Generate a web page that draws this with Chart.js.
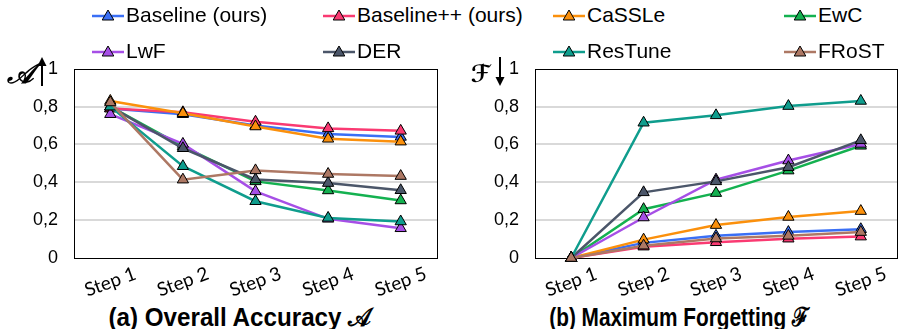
<!DOCTYPE html>
<html>
<head>
<meta charset="utf-8">
<script src="https://cdn.jsdelivr.net/npm/chart.js@4"></script>
<style>
  html, body { margin: 0; padding: 0; background: #fff; }
  #wrap { position: relative; width: 907px; height: 329px; overflow: hidden;
          font-family: 'Liberation Sans', Arial, sans-serif; color: #000; }
  canvas.cv { position: absolute; top: 42px; }
  .leg { position: absolute; height: 24px; display: flex; align-items: center;
         font-size: 21px; white-space: nowrap; }
  .leg svg { margin-right: 2px; }
  .sym { position: absolute; font-weight: bold; font-style: italic;
         font-family: 'DejaVu Serif', 'DejaVu Sans', serif; line-height: 1; }
  .title { position: absolute; top: 303px; font-weight: bold; font-size: 26px; line-height: 28px;
           font-family: 'Liberation Sans', Arial, sans-serif; white-space: nowrap; }
</style>
</head>
<body>
<div id="wrap">
  <canvas id="accChart" class="cv" width="450" height="260" style="left:0px"></canvas>
  <canvas id="fgtChart" class="cv" width="447" height="260" style="left:460px"></canvas>

  <span class="sym" style="left:7px; top:60px; font-size:28px;">𝒜</span>
  <svg style="position:absolute; left:36px; top:55px;" width="12" height="32">
    <line x1="6" y1="8" x2="6" y2="31" stroke="#000" stroke-width="2"/>
    <polygon points="6,2 1.5,11 10.5,11" fill="#000"/>
  </svg>
  <span class="sym" style="left:471px; top:62px; font-size:24px;">ℱ</span>
  <svg style="position:absolute; left:494px; top:55px;" width="12" height="33">
    <line x1="6" y1="2" x2="6" y2="24" stroke="#000" stroke-width="2"/>
    <polygon points="6,31 1.5,22 10.5,22" fill="#000"/>
  </svg>

  <div class="title" style="left:240px; transform: translateX(-50%) scaleX(0.93);">(a) Overall Accuracy 𝒜</div>
  <div class="title" style="left:679px; transform: translateX(-50%) scaleX(0.8);">(b) Maximum Forgetting ℱ</div>

  <div id="legend"></div>
</div>

<script>
// Training steps along the x axis
const steps = ['Step 1', 'Step 2', 'Step 3', 'Step 4', 'Step 5'];

// Method names and their colours
const methods = ['Baseline (ours)', 'Baseline++ (ours)', 'CaSSLe', 'EwC', 'LwF', 'DER', 'ResTune', 'FRoST'];
const colors  = ['#3a6ff5', '#fa3a72', '#fb900c', '#14b150', '#a64fe6', '#4b5669', '#0f9d8d', '#ad7864'];

// Overall accuracy per step
const accBaseline   = [0.79, 0.76, 0.70, 0.655, 0.64];
const accBaselinePP = [0.79, 0.77, 0.72, 0.685, 0.672];
const accCaSSLe     = [0.83, 0.765, 0.695, 0.63, 0.615];
const accEwC        = [0.80, 0.59, 0.405, 0.357, 0.304];
const accLwF        = [0.76, 0.603, 0.352, 0.207, 0.157];
const accDER        = [0.80, 0.58, 0.415, 0.396, 0.358];
const accResTune    = [0.80, 0.485, 0.30, 0.212, 0.193];
const accFRoST      = [0.822, 0.414, 0.463, 0.444, 0.433];

// Maximum forgetting per step
const fgtBaseline   = [0, 0.08, 0.117, 0.137, 0.152];
const fgtBaselinePP = [0, 0.06, 0.083, 0.102, 0.113];
const fgtCaSSLe     = [0, 0.097, 0.174, 0.217, 0.248];
const fgtEwC        = [0, 0.258, 0.343, 0.462, 0.593];
const fgtLwF        = [0, 0.214, 0.414, 0.515, 0.603];
const fgtDER        = [0, 0.347, 0.405, 0.48, 0.622];
const fgtResTune    = [0, 0.715, 0.754, 0.803, 0.83];
const fgtFRoST      = [0, 0.065, 0.103, 0.117, 0.137];

// Y axis ticks and their labels (decimal comma)
const yTicks      = [0, 0.2, 0.4, 0.6, 0.8, 1];
const yTickLabels = ['0', '0,2', '0,4', '0,6', '0,8', '1'];

const accSeries = [accBaseline, accBaselinePP, accCaSSLe, accEwC, accLwF, accDER, accResTune, accFRoST];
const fgtSeries = [fgtBaseline, fgtBaselinePP, fgtCaSSLe, fgtEwC, fgtLwF, fgtDER, fgtResTune, fgtFRoST];

// Legend: 4 columns x 2 rows
const legend = document.getElementById('legend');
const legCols = [92, 323, 553, 784];
const legRows = [15, 51];
methods.forEach((name, i) => {
  const el = document.createElement('div');
  el.className = 'leg';
  el.style.left = legCols[i % 4] + 'px';
  el.style.top = (legRows[Math.floor(i / 4)] - 12) + 'px';
  el.innerHTML =
    '<svg width="32" height="16" viewBox="0 0 32 16">' +
    '<line x1="0" y1="9" x2="32" y2="9" stroke="' + colors[i] + '" stroke-width="2.5"/>' +
    '<polygon points="16,3 21.8,13 10.2,13" fill="' + colors[i] + '" stroke="#000" stroke-width="1"/>' +
    '</svg><span>' + name + '</span>';
  legend.appendChild(el);
});

// Black frame around the plot area
const framePlugin = {
  id: 'frame',
  beforeDatasetsDraw(chart) {
    const { ctx, chartArea: a } = chart;
    ctx.save();
    ctx.strokeStyle = '#000';
    ctx.lineWidth = 1;
    ctx.strokeRect(Math.round(a.left) + 0.5, Math.round(a.top) + 0.5,
                   Math.round(a.right - a.left), Math.round(a.bottom - a.top));
    ctx.restore();
  }
};

// Slanted step labels centred under each category
const stepLabelPlugin = {
  id: 'stepLabels',
  afterDraw(chart) {
    const { ctx, chartArea } = chart;
    const x = chart.scales.x;
    ctx.save();
    ctx.font = '19px Lato, "Open Sans", sans-serif';
    ctx.fillStyle = '#000';
    ctx.textAlign = 'center';
    ctx.textBaseline = 'middle';
    steps.forEach((s, i) => {
      ctx.save();
      ctx.translate(x.getPixelForTick(i), chartArea.bottom + 24);
      ctx.rotate(-20 * Math.PI / 180);
      ctx.fillText(s, 0, 0);
      ctx.restore();
    });
    ctx.restore();
  }
};

function makeChart(id, series, yAxisWidth, rightPad) {
  const datasets = series.map((data, i) => ({
    label: methods[i],
    data: data,
    borderColor: colors[i],
    backgroundColor: colors[i],
    borderWidth: 2.5,
    pointStyle: 'triangle',
    pointRadius: 6.5,
    pointHoverRadius: 6.5,
    pointBorderColor: '#000',
    pointBorderWidth: 1,
    tension: 0,
    clip: false,
    order: series.length - i
  }));
  return new Chart(document.getElementById(id), {
    type: 'line',
    data: { labels: steps, datasets },
    options: {
      responsive: false,
      animation: false,
      devicePixelRatio: 1,
      layout: { padding: { top: 8, right: rightPad, left: 0, bottom: 0 } },
      plugins: { legend: { display: false }, tooltip: { enabled: false } },
      scales: {
        x: {
          offset: true,
          grid: { display: false },
          border: { display: false },
          ticks: { display: false },
          afterFit(scale) { scale.height = 44; }
        },
        y: {
          min: 0, max: 1,
          afterBuildTicks(scale) { scale.ticks = yTicks.map(v => ({ value: v })); },
          afterFit(scale) { scale.width = yAxisWidth; },
          border: { display: false },
          grid: {
            drawTicks: false,
            lineWidth: 2,
            color: c => (c.tick && (c.tick.value === 0 || c.tick.value === 1)) ? 'rgba(0,0,0,0)' : '#d9d9d9'
          },
          ticks: {
            padding: 16,
            color: '#000',
            font: { family: "'Liberation Sans', Arial, sans-serif", size: 18 },
            callback: (v, idx) => yTickLabels[idx]
          }
        }
      }
    },
    plugins: [framePlugin, stepLabelPlugin]
  });
}

makeChart('accChart', accSeries, 74, 13);
makeChart('fgtChart', fgtSeries, 75, 10);
</script>
</body>
</html>
